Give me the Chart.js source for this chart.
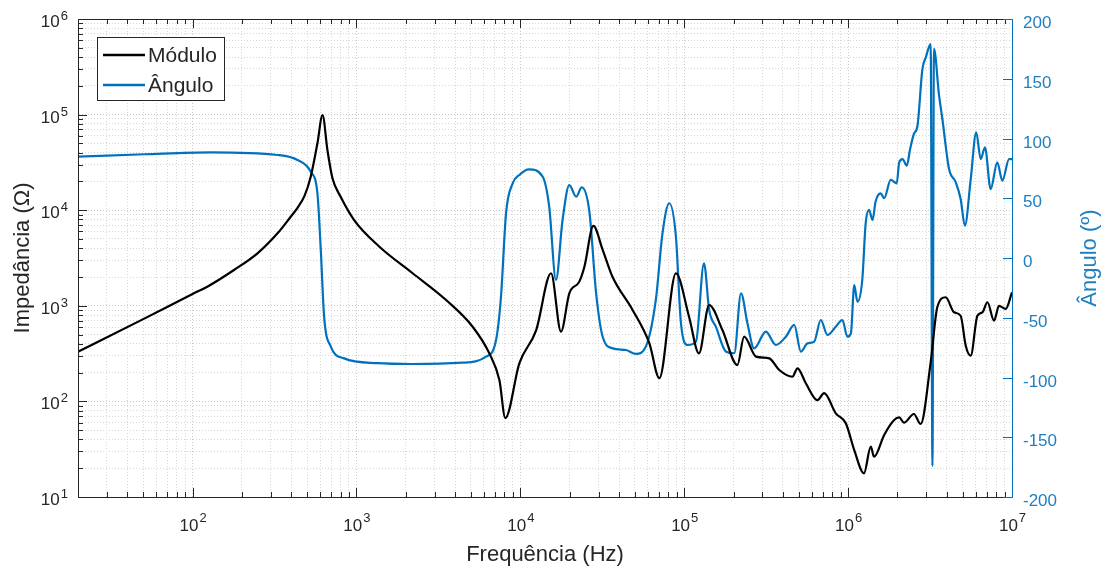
<!DOCTYPE html>
<html>
<head>
<meta charset="utf-8">
<title>Impedância - Módulo e Ângulo</title>
<script src="https://cdn.jsdelivr.net/npm/chart.js@4.4.1/dist/chart.umd.min.js"></script>
<style>
    html, body { margin: 0; padding: 0; background: #fff; }
    #wrap { width: 1101px; height: 566px; }
</style>
</head>
<body>
<div id="wrap"><canvas id="impChart" width="1101" height="566"></canvas></div>
<script>
// Módulo (Ω) vs frequência (Hz)
const freqMod = [20, 50.7, 100, 123, 179, 249, 330, 397, 437, 482,
    526, 578, 621, 665, 714, 801, 968, 1381, 2203, 3523,
    5117, 6470, 7450, 8100, 9860, 12500, 15400, 17700, 19900, 22900,
    24600, 27900, 31800, 36500, 48400, 61300, 70500, 89000, 107000, 123000,
    142000, 171000, 211000, 232000, 274000, 330000, 380000, 457000, 491000, 552000,
    650000, 714000, 841000, 968000, 1090000, 1250000, 1375000, 1440000, 1660000, 1910000,
    2050000, 2190000, 2520000, 2770000, 3190000, 3500000, 3940000, 4430000, 4860000, 5220000,
    5600000, 6150000, 6600000, 7080000, 7770000, 8330000, 9150000, 10000000];
const modulo = [330, 734, 1330, 1585, 2370, 3540, 5730, 8550, 10600, 14100,
    22400, 50100, 99000, 42700, 21600, 13800, 7890, 4150, 2190, 1150,
    604, 318, 167, 67, 250, 558, 2190, 536, 1352, 1790,
    2560, 6840, 3840, 2010, 904, 405, 175, 2190, 769, 318,
    1020, 558, 240, 475, 294, 282, 213, 181, 222, 155,
    103, 122, 75, 59, 31, 17.7, 33.6, 26.4, 44.6, 63.8,
    68, 60, 73.8, 58, 256, 964, 1228, 855, 787, 383,
    301, 787, 855, 1089, 698, 1000, 927, 1384];

// Ângulo (º) vs frequência (Hz)
const freqAng = [20, 50.7, 129, 330, 437, 526, 578, 606, 635, 697,
    841, 1343, 2203, 4450, 6180, 7110, 7620, 8180, 8980, 9860,
    11300, 13700, 15000, 16500, 18100, 19900, 21900, 23700, 26400, 29000,
    31800, 36600, 44100, 50700, 58300, 67100, 73700, 81000, 89000, 95500,
    105000, 118000, 132000, 142000, 156000, 180000, 202000, 222000, 243000, 267000,
    315000, 362000, 417000, 469000, 515000, 565000, 621000, 681000, 748000, 841000,
    923000, 990000, 1040000, 1090000, 1140000, 1220000, 1280000, 1340000, 1410000, 1470000,
    1580000, 1660000, 1820000, 1980000, 2050000, 2150000, 2280000, 2390000, 2520000, 2650000,
    2840000, 2980000, 3190000, 3270000, 3340000, 3590000, 3760000, 4130000, 4540000, 4860000,
    5160000, 5600000, 6050000, 6440000, 6840000, 7410000, 8130000, 8730000, 9600000, 10000000];
const angulo = [84.8, 86.8, 88.4, 86.2, 82, 72.2, 54, 6.7, -49, -74,
    -84, -88, -88.7, -87.6, -82.6, -68.6, -32.4, 37.4, 62.5, 69.5,
    74.2, 68, 43, -18.4, 31.8, 61, 51.3, 59.1, 38.5, -29.5,
    -65.9, -75.6, -77, -80.3, -74.2, -35.1, 20.7, 45.8, 17.8, -54.6,
    -72.8, -70, -4.4, -43.5, -57.5, -78.4, -79.7, -29.5, -54.6, -75.6,
    -61.6, -72.8, -65.9, -56, -78.4, -71.4, -70, -51.9, -64.4, -57.5,
    -51.9, -65.9, -63, -22.6, -36.6, -18.4, 29, 40.2, 31.8, 47.1,
    54.1, 50, 65.3, 62.5, 80, 82.8, 77.2, 91.2, 103.8, 110.7,
    158, 168, 179, -174, 175, 135.8, 116.3, 74.5, 63.3, 49.4,
    27, 66.1, 105.2, 82.8, 92.6, 57.7, 80, 64.7, 82.8, 82.8];

// ticks
const xExponents = [2, 3, 4, 5, 6, 7];
const yExponents = [1, 2, 3, 4, 5, 6];
const angTicks = [-200, -150, -100, -50, 0, 50, 100, 150, 200];

const BLUE = '#0072BD';
const BLUE_TXT = '#1f7fc0';
const TXT = '#262626';
const FONT = '"Liberation Sans", Arial, sans-serif';

function logTicks(lo, hi) {
    const out = [];
    for (let e = -1; e <= 8; e++) {
        for (let m = 1; m <= 9; m++) {
            const v = m * Math.pow(10, e);
            if (v >= lo * 0.999 && v <= hi * 1.001) out.push({ value: v, major: m === 1 });
        }
    }
    return out;
}

const gridColor = (c) => c.tick && c.tick.major ? '#c9c9c9' : '#d6d6d6';

// eixos estilo matlab: ticks para dentro, rótulos 10^n, legenda com caixa
const matlabAxes = {
    id: 'matlabAxes',
    afterDraw(chart) {
        const { ctx, chartArea: a, scales } = chart;
        const x = scales.x, y = scales.y, y2 = scales.y2;
        ctx.save();
        ctx.lineWidth = 1;
        ctx.setLineDash([]);

        // ticks x (baixo e topo)
        ctx.strokeStyle = TXT;
        ctx.beginPath();
        x.ticks.forEach(t => {
            const px = Math.round(x.getPixelForValue(t.value)) + 0.5;
            const len = t.major ? 9 : 5;
            ctx.moveTo(px, a.bottom); ctx.lineTo(px, a.bottom - len);
            ctx.moveTo(px, a.top); ctx.lineTo(px, a.top + len);
        });
        y.ticks.forEach(t => {
            const py = Math.round(y.getPixelForValue(t.value)) + 0.5;
            const len = t.major ? 9 : 5;
            ctx.moveTo(a.left, py); ctx.lineTo(a.left + len, py);
        });
        // moldura
        ctx.moveTo(a.left, a.top + 0.5); ctx.lineTo(a.right, a.top + 0.5);
        ctx.moveTo(a.left + 0.5, a.top); ctx.lineTo(a.left + 0.5, a.bottom);
        ctx.moveTo(a.left, a.bottom + 0.5); ctx.lineTo(a.right, a.bottom + 0.5);
        ctx.stroke();

        ctx.strokeStyle = BLUE;
        ctx.beginPath();
        ctx.moveTo(a.right + 0.5, a.top); ctx.lineTo(a.right + 0.5, a.bottom + 1);
        angTicks.forEach(v => {
            const py = Math.round(y2.getPixelForValue(v)) + 0.5;
            ctx.moveTo(a.right, py); ctx.lineTo(a.right - 9, py);
        });
        ctx.stroke();

        // rótulos 10^n
        const big = '17px ' + FONT, small = '13px ' + FONT;
        ctx.fillStyle = TXT;
        ctx.textBaseline = 'alphabetic';
        xExponents.forEach(e => {
            const px = x.getPixelForValue(Math.pow(10, e));
            ctx.font = big; const w1 = ctx.measureText('10').width;
            ctx.font = small; const w2 = ctx.measureText(String(e)).width;
            const x0 = px - (w1 + w2) / 2;
            ctx.textAlign = 'left';
            ctx.font = big; ctx.fillText('10', x0, a.bottom + 34);
            ctx.font = small; ctx.fillText(String(e), x0 + w1 + 1, a.bottom + 25);
        });
        yExponents.forEach(e => {
            const py = y.getPixelForValue(Math.pow(10, e));
            ctx.font = small; const w2 = ctx.measureText(String(e)).width;
            ctx.textAlign = 'right';
            ctx.fillText(String(e), 68, py + 1);
            ctx.font = big; ctx.fillText('10', 68 - w2 - 1, py + 8);
        });
        ctx.fillStyle = BLUE_TXT;
        ctx.font = big;
        ctx.textAlign = 'left';
        angTicks.forEach(v => {
            ctx.fillText(String(v), a.right + 11, y2.getPixelForValue(v) + 9);
        });

        // títulos
        ctx.font = '22px ' + FONT;
        ctx.fillStyle = TXT;
        ctx.textAlign = 'center';
        ctx.fillText('Frequência (Hz)', (a.left + a.right) / 2, 561);
        ctx.save();
        ctx.translate(29, (a.top + a.bottom) / 2);
        ctx.rotate(-Math.PI / 2);
        ctx.fillText('Impedância (Ω)', 0, 0);
        ctx.restore();
        ctx.save();
        ctx.fillStyle = BLUE_TXT;
        ctx.translate(1096, (a.top + a.bottom) / 2);
        ctx.rotate(-Math.PI / 2);
        ctx.fillText('Ângulo (º)', 0, 0);
        ctx.restore();

        // legenda
        const lx = a.left + 19, ly = a.top + 18, lw = 127, lh = 63;
        ctx.fillStyle = '#fff';
        ctx.fillRect(lx, ly, lw, lh);
        ctx.strokeStyle = TXT;
        ctx.strokeRect(lx + 0.5, ly + 0.5, lw, lh);
        ctx.font = '21px ' + FONT;
        ctx.textAlign = 'left';
        ctx.textBaseline = 'middle';
        chart.data.datasets.forEach((ds, i) => {
            const cy = ly + 18 + i * 30;
            ctx.strokeStyle = ds.borderColor;
            ctx.lineWidth = 2.5;
            ctx.beginPath(); ctx.moveTo(lx + 6, cy); ctx.lineTo(lx + 48, cy); ctx.stroke();
            ctx.fillStyle = TXT;
            ctx.fillText(ds.label, lx + 51, cy + 1);
        });
        ctx.restore();
    }
};

const ctx = document.getElementById('impChart').getContext('2d');
new Chart(ctx, {
    type: 'line',
    data: {
        datasets: [{
            label: 'Módulo',
            data: freqMod.map((f, i) => ({ x: f, y: modulo[i] })),
            yAxisID: 'y',
            borderColor: '#000000',
            borderWidth: 2.2,
            pointRadius: 0,
            cubicInterpolationMode: 'monotone',
            fill: false
        }, {
            label: 'Ângulo',
            data: freqAng.map((f, i) => ({ x: f, y: angulo[i] })),
            yAxisID: 'y2',
            borderColor: BLUE,
            borderWidth: 2.2,
            pointRadius: 0,
            cubicInterpolationMode: 'monotone',
            fill: false
        }]
    },
    options: {
        responsive: false,
        animation: false,
        events: [],
        layout: { padding: { left: 78, right: 89, top: 19, bottom: 69 } },
        plugins: { legend: { display: false }, tooltip: { enabled: false } },
        scales: {
            x: {
                type: 'logarithmic', min: 20, max: 1e7,
                afterBuildTicks: (s) => { s.ticks = logTicks(20, 1e7); },
                ticks: { display: false },
                grid: { color: gridColor, lineWidth: 1, drawTicks: false },
                border: { display: true, color: TXT, dash: [1, 2] }
            },
            y: {
                type: 'logarithmic', position: 'left', min: 10, max: 1e6,
                afterBuildTicks: (s) => { s.ticks = logTicks(10, 1e6); },
                ticks: { display: false },
                grid: { color: gridColor, lineWidth: 1, drawTicks: false },
                border: { display: true, color: TXT, dash: [1, 2] }
            },
            y2: {
                type: 'linear', position: 'right', min: -200, max: 200,
                ticks: { display: false, stepSize: 50 },
                grid: { drawOnChartArea: false, drawTicks: false },
                border: { display: true, color: BLUE }
            }
        }
    },
    plugins: [matlabAxes]
});
</script>
</body>
</html>
